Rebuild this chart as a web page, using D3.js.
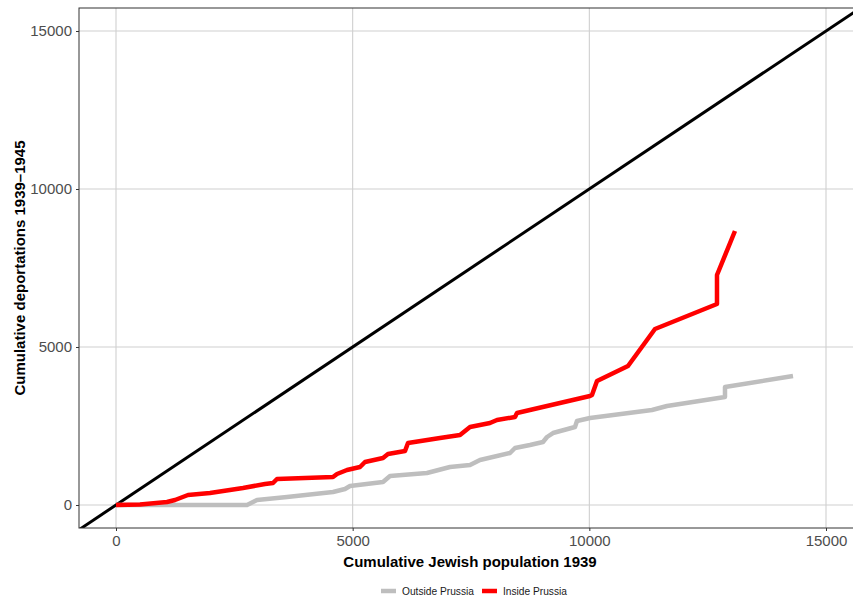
<!DOCTYPE html>
<html><head><meta charset="utf-8">
<script src="https://cdn.jsdelivr.net/npm/d3@7"></script>
<style>body{margin:0;background:#fff}svg{display:block;font-family:"Liberation Sans",Arial,sans-serif}</style>
</head><body><svg id="c" width="853" height="599"></svg>
<script>
const seriesNames = ["Outside Prussia", "Inside Prussia"];
const seriesColors = ["#BEBEBE", "#FF0000"];
const xTicks = [0, 5000, 10000, 15000];
const yTicks = [0, 5000, 10000, 15000];
const outsideX = [0,2768,2979,3613,4585,4838,4944,5641,5789,6570,7056,7479,7690,8324,8430,8746,9021,9106,9232,9697,9739,10014,11324,11641,12866,12866,14303];
const outsideY = [0,0,158,253,411,506,601,728,918,1013,1203,1266,1424,1646,1804,1899,1994,2152,2278,2468,2658,2753,3006,3133,3418,3734,4082];
const insideX = [0,507,1077,1246,1521,1986,2683,3148,3317,3401,4585,4669,4880,5155,5261,5641,5746,6106,6169,6845,7268,7479,7901,8049,8430,8472,10014,10056,10162,10817,11387,12697,12697,13077];
const insideY = [0,16,95,158,316,380,538,665,696,823,886,981,1108,1203,1361,1487,1614,1709,1962,2120,2215,2468,2595,2690,2785,2911,3449,3481,3924,4399,5570,6361,7278,8671];

const svg = d3.select("#c");
const L = 79, R = 862, T = 8, B = 528;
const x = d3.scaleLinear().domain([0, 15000]).range([116, 826]);
const y = d3.scaleLinear().domain([0, 15000]).range([505, 31]);

svg.append("defs").append("clipPath").attr("id","clip").append("rect")
  .attr("x", L).attr("y", T).attr("width", R - L).attr("height", B - T);

// grid
const g = svg.append("g");
g.selectAll(".gx").data(xTicks).enter().append("line")
  .attr("x1", d => x(d)).attr("x2", d => x(d)).attr("y1", T).attr("y2", B)
  .attr("stroke", "#cfcfcf").attr("stroke-width", 1.1);
g.selectAll(".gy").data(yTicks).enter().append("line")
  .attr("y1", d => y(d)).attr("y2", d => y(d)).attr("x1", L).attr("x2", R)
  .attr("stroke", "#cfcfcf").attr("stroke-width", 1.1);

const plot = svg.append("g").attr("clip-path", "url(#clip)");
// identity line
const dmin = x.invert(L), dmax = x.invert(R);
plot.append("line").attr("x1", x(dmin)).attr("y1", y(dmin)).attr("x2", x(dmax)).attr("y2", y(dmax))
  .attr("stroke", "#000").attr("stroke-width", 3);

const line = d3.line().x(d => x(d[0])).y(d => y(d[1]));
const outside = outsideX.map((v, i) => [v, outsideY[i]]);
const inside = insideX.map((v, i) => [v, insideY[i]]);
plot.append("path").attr("d", line(outside)).attr("fill", "none")
  .attr("stroke", seriesColors[0]).attr("stroke-width", 4.5).attr("stroke-linejoin", "round");
plot.append("path").attr("d", line(inside)).attr("fill", "none")
  .attr("stroke", seriesColors[1]).attr("stroke-width", 4.5).attr("stroke-linejoin", "round");

// panel border
svg.append("rect").attr("x", L).attr("y", T).attr("width", R - L).attr("height", B - T)
  .attr("fill", "none").attr("stroke", "#333").attr("stroke-width", 1);

// axes
const xAxis = d3.axisBottom(x).tickValues(xTicks).tickSize(3).tickPadding(4).tickFormat(d3.format("d"));
const yAxis = d3.axisLeft(y).tickValues(yTicks).tickSize(3).tickPadding(4).tickFormat(d3.format("d"));
const gx = svg.append("g").attr("transform", `translate(0,${B})`).call(xAxis);
const gy = svg.append("g").attr("transform", `translate(${L},0)`).call(yAxis);
[gx, gy].forEach(a => {
  a.select(".domain").remove();
  a.selectAll(".tick line").attr("stroke", "#333");
  a.selectAll(".tick text").attr("fill", "#4d4d4d").style("font-size", "15px").style("font-family", "Liberation Sans, Arial, sans-serif");
});

// titles
svg.append("text").attr("x", 470).attr("y", 567).attr("text-anchor", "middle")
  .style("font-size", "15px").style("font-weight", "bold").text("Cumulative Jewish population 1939");
svg.append("text").attr("transform", "translate(25,268) rotate(-90)").attr("text-anchor", "middle")
  .style("font-size", "15px").style("font-weight", "bold").text("Cumulative deportations 1939\u20131945");

// legend
const leg = svg.append("g");
const legX = [381, 482];
seriesNames.forEach((n, i) => {
  leg.append("line").attr("x1", legX[i]).attr("x2", legX[i] + 15).attr("y1", 591).attr("y2", 591)
    .attr("stroke", seriesColors[i]).attr("stroke-width", 4.5);
  leg.append("text").attr("x", legX[i] + 21).attr("y", 594.5).style("font-size", "10.2px").attr("fill", "#1a1a1a").text(n);
});
</script></body></html>
